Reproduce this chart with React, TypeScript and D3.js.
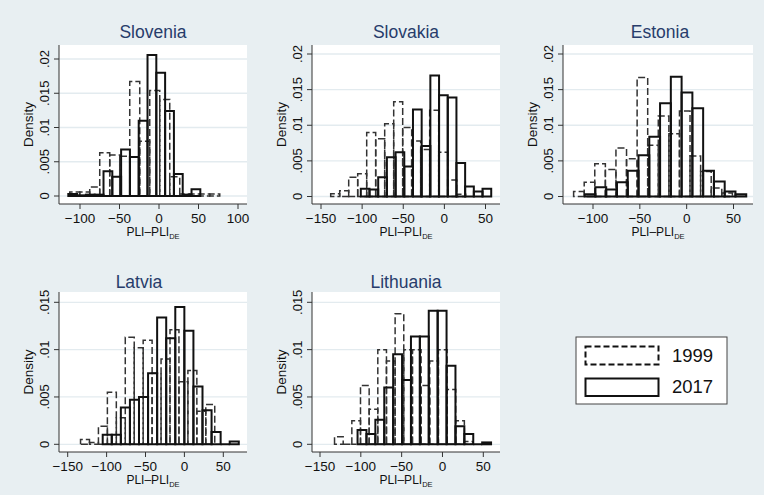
import * as d3 from 'd3';

// density per bin; each series: first bin edge, bin width, heights
const sloveniaStart1999 = -113;
const sloveniaWidth1999 = 12.66;
const slovenia1999 = [0.0006, 0.0006, 0.0013, 0.0063, 0.006, 0.0058, 0.0167, 0.008, 0.0154, 0.0141, 0.0028, 0.0003, 0.0003, 0.0003, 0.0003];
const sloveniaStart2017 = -114.8;
const sloveniaWidth2017 = 11.14;
const slovenia2017 = [0.0003, 0.0001, 0.0002, 0.0002, 0.0036, 0.0028, 0.0068, 0.0057, 0.011, 0.0206, 0.018, 0.0124, 0.0032, 0.0002, 0.001];

const slovakiaStart1999 = -138.2;
const slovakiaWidth1999 = 10.94;
const slovakia1999 = [0.0004, 0.0008, 0.0027, 0.0032, 0.009, 0.0081, 0.0102, 0.0133, 0.0097, 0.0078, 0.0066, 0.0121, 0.0062, 0.0023, 0.0003];
const slovakiaStart2017 = -101.6;
const slovakiaWidth2017 = 10.57;
const slovakia2017 = [0.0011, 0.001, 0.0027, 0.0055, 0.0062, 0.0042, 0.0122, 0.0071, 0.017, 0.0142, 0.0139, 0.0047, 0.0014, 0.0007, 0.0011];

const estoniaStart1999 = -120.7;
const estoniaWidth1999 = 11.3;
const estonia1999 = [0.0007, 0.002, 0.0046, 0.0038, 0.0068, 0.0053, 0.0167, 0.0072, 0.0113, 0.0088, 0.012, 0.0057, 0.0035, 0.0012, 0.0005];
const estoniaStart2017 = -108.9;
const estoniaWidth2017 = 11.5;
const estonia2017 = [0.0003, 0.0013, 0.001, 0.002, 0.0036, 0.0058, 0.0084, 0.0131, 0.0168, 0.0146, 0.0124, 0.0036, 0.0021, 0.0007, 0.0003];

const latviaStart1999 = -133.5;
const latviaWidth1999 = 11.5;
const latvia1999 = [0.0005, 0.0002, 0.0019, 0.0055, 0.0028, 0.0113, 0.0102, 0.011, 0.0075, 0.009, 0.0121, 0.0066, 0.0078, 0.0035, 0.0042];
const latviaStart2017 = -105;
const latviaWidth2017 = 11.66;
const latvia2017 = [0.001, 0.001, 0.0039, 0.0047, 0.005, 0.0075, 0.0134, 0.0112, 0.0145, 0.012, 0.0061, 0.0036, 0.0013, 0, 0.0003];

const lithuaniaStart1999 = -132.2;
const lithuaniaWidth1999 = 10.6;
const lithuania1999 = [0.0008, 0, 0.0025, 0.0062, 0.0037, 0.01, 0.0088, 0.0138, 0.01, 0.01, 0.0062, 0.0088, 0.01, 0.0058, 0.0025, 0.0003];
const lithuaniaStart2017 = -104;
const lithuaniaWidth2017 = 10.9;
const lithuania2017 = [0.0015, 0.0011, 0.0026, 0.006, 0.0095, 0.0068, 0.0114, 0.0114, 0.0141, 0.0141, 0.0083, 0.0019, 0.0011, 0, 0.0002];

const xTicksWide = [-150, -100, -50, 0, 50];
const xTicksSlovenia = [-100, -50, 0, 50, 100];
const xTicksEstonia = [-100, -50, 0, 50];
const yTicksTop = [0, 0.005, 0.01, 0.015, 0.02];
const yTicksBottom = [0, 0.005, 0.01, 0.015];
const legendLabels = ['1999', '2017'];

const BG = '#e8eff2';
const TITLE = '#273c6b';
const FONT = '"Liberation Sans", Arial, Helvetica, sans-serif';

interface Series {
  start: number;
  width: number;
  values: number[];
}

interface Panel {
  name: string;
  left: number;
  right: number;
  top: number;
  bottom: number;
  xDomain: [number, number];
  xRange: [number, number];
  xTicks: number[];
  yMax: number;
  yRange: [number, number];
  yTicks: number[];
  titleX: number;
  titleY: number;
  s1999: Series;
  s2017: Series;
}

const panels: Panel[] = [
  {
    name: 'Slovenia', left: 59, right: 247, top: 45, bottom: 204,
    xDomain: [-100, 100], xRange: [80, 238], xTicks: xTicksSlovenia,
    yMax: 0.02, yRange: [196, 59], yTicks: yTicksTop, titleX: 153, titleY: 38,
    s1999: { start: sloveniaStart1999, width: sloveniaWidth1999, values: slovenia1999 },
    s2017: { start: sloveniaStart2017, width: sloveniaWidth2017, values: slovenia2017 },
  },
  {
    name: 'Slovakia', left: 312, right: 500, top: 45, bottom: 204,
    xDomain: [-150, 50], xRange: [321, 485.5], xTicks: xTicksWide,
    yMax: 0.02, yRange: [196.5, 54], yTicks: yTicksTop, titleX: 406, titleY: 38,
    s1999: { start: slovakiaStart1999, width: slovakiaWidth1999, values: slovakia1999 },
    s2017: { start: slovakiaStart2017, width: slovakiaWidth2017, values: slovakia2017 },
  },
  {
    name: 'Estonia', left: 563, right: 753, top: 45, bottom: 204,
    xDomain: [-100, 50], xRange: [593, 733.5], xTicks: xTicksEstonia,
    yMax: 0.02, yRange: [196.5, 54], yTicks: yTicksTop, titleX: 660, titleY: 38,
    s1999: { start: estoniaStart1999, width: estoniaWidth1999, values: estonia1999 },
    s2017: { start: estoniaStart2017, width: estoniaWidth2017, values: estonia2017 },
  },
  {
    name: 'Latvia', left: 59, right: 247, top: 292, bottom: 452,
    xDomain: [-150, 50], xRange: [67.7, 223.3], xTicks: xTicksWide,
    yMax: 0.015, yRange: [444.3, 302.3], yTicks: yTicksBottom, titleX: 139, titleY: 288,
    s1999: { start: latviaStart1999, width: latviaWidth1999, values: latvia1999 },
    s2017: { start: latviaStart2017, width: latviaWidth2017, values: latvia2017 },
  },
  {
    name: 'Lithuania', left: 312, right: 500, top: 292, bottom: 452,
    xDomain: [-150, 50], xRange: [320, 483.3], xTicks: xTicksWide,
    yMax: 0.015, yRange: [444.3, 302.3], yTicks: yTicksBottom, titleX: 406, titleY: 288,
    s1999: { start: lithuaniaStart1999, width: lithuaniaWidth1999, values: lithuania1999 },
    s2017: { start: lithuaniaStart2017, width: lithuaniaWidth2017, values: lithuania2017 },
  },
];

function fmtY(v: number): string {
  if (v === 0) return '0';
  return d3.format('.3~f')(v).replace(/^0/, '');
}

function barPaths(s: Series, x: d3.ScaleLinear<number, number>, y: d3.ScaleLinear<number, number>) {
  return s.values.map((v, i) => {
    const x0 = x(s.start + i * s.width);
    const x1 = x(s.start + (i + 1) * s.width);
    const y0 = y(0);
    const y1 = y(v);
    return `M${x0},${y0}V${y1}H${x1}V${y0}Z`;
  });
}

function HistPanel({ p }: { p: Panel }) {
  const x = d3.scaleLinear().domain(p.xDomain).range(p.xRange);
  const y = d3.scaleLinear().domain([0, p.yMax]).range(p.yRange);
  const midY = (p.top + p.bottom) / 2;
  const midX = (p.left + p.right) / 2;

  return (
    <g>
      <rect x={p.left} y={p.top} width={p.right - p.left} height={p.bottom - p.top} fill="#fff" />
      {p.yTicks.map((t) => (
        <line key={'g' + t} x1={p.left} x2={p.right} y1={y(t)} y2={y(t)} stroke="#e3ebef" strokeWidth={1.3} />
      ))}
      {barPaths(p.s1999, x, y).map((d, i) => (
        <path key={'a' + i} d={d} fill="none" stroke="#333" strokeWidth={1.5} strokeDasharray="7,3" />
      ))}
      {barPaths(p.s2017, x, y).map((d, i) => (
        <path key={'b' + i} d={d} fill="none" stroke="#111" strokeWidth={2} />
      ))}
      {/* axes */}
      <line x1={p.left} x2={p.left} y1={p.top} y2={p.bottom} stroke="#333" strokeWidth={1} />
      <line x1={p.left} x2={p.right} y1={p.bottom} y2={p.bottom} stroke="#333" strokeWidth={1} />
      {p.yTicks.map((t) => (
        <g key={'y' + t}>
          <line x1={p.left - 5} x2={p.left} y1={y(t)} y2={y(t)} stroke="#333" />
          <text
            transform={`translate(${p.left - 10},${y(t)}) rotate(-90)`}
            textAnchor="middle"
            fontSize={13}
            fontFamily={FONT}
            fill="#111"
          >
            {fmtY(t)}
          </text>
        </g>
      ))}
      {p.xTicks.map((t) => (
        <g key={'x' + t}>
          <line x1={x(t)} x2={x(t)} y1={p.bottom} y2={p.bottom + 5} stroke="#333" />
          <text x={x(t)} y={p.bottom + 18.5} textAnchor="middle" fontSize={13.5} fontFamily={FONT} fill="#111">
            {t < 0 ? '\u2212' + Math.abs(t) : t}
          </text>
        </g>
      ))}
      <text
        transform={`translate(${p.left - 26},${midY}) rotate(-90)`}
        textAnchor="middle"
        fontSize={13.5}
        fontFamily={FONT}
        fill="#111"
      >
        Density
      </text>
      <text x={midX} y={p.bottom + 32} textAnchor="middle" fontSize={12} fontFamily={FONT} fill="#111">
        PLI–PLI
        <tspan fontSize={7.5} dy={3}>DE</tspan>
      </text>
      <text x={p.titleX} y={p.titleY} textAnchor="middle" fontSize={17.5} fontFamily={FONT} fill={TITLE}>
        {p.name}
      </text>
    </g>
  );
}

export default function App() {
  return (
    <svg width={764} height={495} style={{ position: 'absolute', left: 0, top: 0 }}>
      <rect x={0} y={0} width={764} height={495} fill={BG} />
      {panels.map((p) => (
        <HistPanel key={p.name} p={p} />
      ))}
      <g>
        <rect x={576} y={337} width={151} height={67} fill="#fff" stroke="#444" strokeWidth={1} />
        <rect x={585.5} y={346.5} width={73} height={18} fill="#fff" stroke="#111" strokeWidth={2} strokeDasharray="6,3" />
        <rect x={585.5} y={378.5} width={73} height={17.5} fill="#fff" stroke="#111" strokeWidth={2} />
        <text x={672} y={362} fontSize={18.5} fontFamily={FONT} fill="#111">{legendLabels[0]}</text>
        <text x={672} y={393} fontSize={18.5} fontFamily={FONT} fill="#111">{legendLabels[1]}</text>
      </g>
    </svg>
  );
}
